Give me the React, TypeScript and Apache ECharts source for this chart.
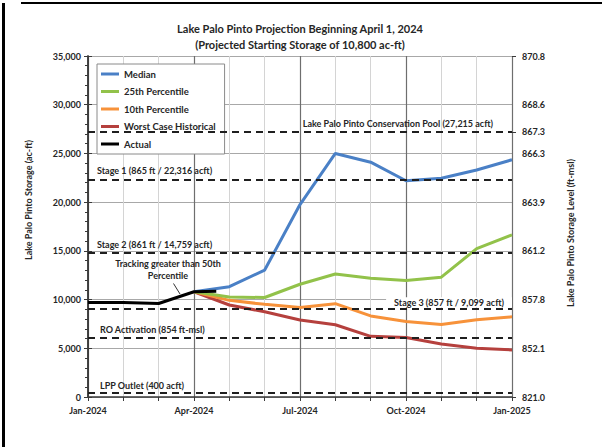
import React, { useEffect, useRef } from "react";
import * as echarts from "echarts";

// ---------- data ----------
const monthLabels = [
  "Jan-2024", "Feb-2024", "Mar-2024", "Apr-2024", "May-2024", "Jun-2024", "Jul-2024",
  "Aug-2024", "Sep-2024", "Oct-2024", "Nov-2024", "Dec-2024", "Jan-2025",
];
const rightTickLabels = ["821.0", "852.1", "857.8", "861.2", "863.9", "866.3", "868.6", "870.8"];
const conservationLevelLabel = "867.3";
const conservationStorage = 27215;

const actualMonths = [0, 1, 2, 3, 3.63];
const actualValues = [9700, 9700, 9600, 10800, 10850];

const projMonths = [3, 4, 5, 6, 7, 8, 9, 10, 11, 12];
const medianValues = [10800, 11320, 13030, 19750, 25000, 24100, 22200, 22450, 23300, 24350];
const p25Values = [10800, 10270, 10210, 11570, 12620, 12200, 11950, 12300, 15230, 16640];
const p10Values = [10800, 9920, 9510, 9180, 9580, 8320, 7760, 7450, 7930, 8230];
const worstValues = [10800, 9440, 8750, 7900, 7420, 6230, 6110, 5430, 5000, 4830];

const thresholdNames = [
  "Lake Palo Pinto Conservation Pool (27,215 acft)",
  "Stage 1 (865 ft / 22,316 acft)",
  "Stage 2 (861 ft / 14,759 acft)",
  "Stage 3 (857 ft / 9,099 acft)",
  "RO Activation (854 ft-msl)",
  "LPP Outlet (400 acft)",
];
const thresholdValues = [27215, 22316, 14759, 9099, 6130, 400];

const seriesNames = ["Median", "25th Percentile", "10th Percentile", "Worst Case Historical", "Actual"];
const titleLines = ["Lake Palo Pinto Projection Beginning April 1, 2024", "(Projected Starting Storage of 10,800 ac-ft)"];
const annotationText = "Tracking greater than 50th\nPercentile";

// ---------- styles ----------
const FONT = "Lato, 'Open Sans', sans-serif";
const TXT = "#262626";
const colors = ["#4a80c6", "#92c24a", "#f7923a", "#b5403d", "#000000"];

const zip = (xs: number[], ys: number[]) => xs.map((x, i) => [x, ys[i]]);

export default function App() {
  const ref = useRef<HTMLDivElement>(null);

  useEffect(() => {
    document.body.style.margin = "0";
    if (!ref.current) return;
    const chart = echarts.init(ref.current, undefined, { renderer: "svg" });

    const gridL = 88, gridR = 90, gridT = 56, gridB = 50;

    const thresholdStyle = [
      { position: "insideEndTop", distance: [19, 4] },
      { position: "insideStartTop", distance: [9, 5] },
      { position: "insideStartTop", distance: [9, 4] },
      { position: "insideEndTop", distance: [0, 1], bg: true },
      { position: "insideStartTop", distance: [12, 3] },
      { position: "insideStartTop", distance: [12, 3] },
    ];

    const lineSeries = [medianValues, p25Values, p10Values, worstValues].map((vals, i) => ({
      name: seriesNames[i],
      type: "line",
      data: zip(projMonths, vals),
      showSymbol: false,
      color: colors[i],
      lineStyle: { width: 3, color: colors[i] },
      z: 3 + (3 - i) * 0.1,
    }));

    const option: any = {
      animation: false,
      backgroundColor: "#ffffff",
      grid: { left: gridL, right: gridR, top: gridT, bottom: gridB, containLabel: false },
      legend: {
        data: seriesNames,
        orient: "vertical",
        left: 97,
        top: 64,
        icon: "rect",
        itemWidth: 18,
        itemHeight: 3,
        itemGap: 5.5,
        padding: [4, 9, 4, 4],
        backgroundColor: "#ffffff",
        borderColor: "#8a8a8a",
        borderWidth: 1,
        textStyle: { fontFamily: FONT, fontSize: 9.5, fontWeight: "bold", color: TXT, lineHeight: 12 },
      },
      xAxis: [
        {
          type: "value",
          min: 0,
          max: 12,
          interval: 1,
          axisLine: { show: true, lineStyle: { color: "#3a3a3a", width: 1.5 } },
          axisTick: { show: true, length: 4, lineStyle: { color: "#3a3a3a" } },
          axisLabel: {
            margin: 9,
            fontFamily: FONT,
            fontSize: 9,
            fontWeight: "bold",
            color: TXT,
            formatter: (v: number) => (v % 3 === 0 ? monthLabels[v] : ""),
          },
          splitLine: { show: true, lineStyle: { color: "#d4d4d4", width: 1 } },
        },
        {
          type: "value",
          min: 0,
          max: 12,
          interval: 3,
          position: "top",
          axisLine: { show: false },
          axisTick: { show: false },
          axisLabel: { show: false },
          splitLine: { show: true, lineStyle: { color: "#6e6e6e", width: 1.2 } },
        },
      ],
      yAxis: [
        {
          type: "value",
          min: 0,
          max: 35000,
          interval: 5000,
          axisLine: { show: true, lineStyle: { color: "#3a3a3a", width: 1.5 } },
          axisTick: { show: true, length: 4, lineStyle: { color: "#3a3a3a" } },
          minorTick: { show: true, splitNumber: 5, length: 3, lineStyle: { color: "#3a3a3a" } },
          axisLabel: {
            margin: 7,
            fontFamily: FONT,
            fontSize: 9,
            fontWeight: "bold",
            color: TXT,
            formatter: (v: number) => v.toLocaleString("en-US"),
          },
          splitLine: { show: true, lineStyle: { color: "#a8a8a8", width: 1 } },
        },
        {
          type: "value",
          min: 0,
          max: 35000,
          interval: 5000,
          position: "right",
          axisLine: { show: true, lineStyle: { color: "#3a3a3a", width: 1.5 } },
          axisTick: { show: true, length: 4, lineStyle: { color: "#3a3a3a" } },
          axisLabel: {
            margin: 10,
            fontFamily: FONT,
            fontSize: 9,
            fontWeight: "bold",
            color: TXT,
            formatter: (v: number) => rightTickLabels[Math.round(v / 5000)] ?? "",
          },
          splitLine: { show: false },
        },
        {
          type: "value",
          min: 0,
          max: 35000,
          interval: conservationStorage,
          position: "right",
          axisLine: { show: false },
          axisTick: { show: true, length: 4, lineStyle: { color: "#3a3a3a" } },
          axisLabel: {
            margin: 10,
            fontFamily: FONT,
            fontSize: 9,
            fontWeight: "bold",
            color: TXT,
            formatter: (v: number) => (Math.abs(v - conservationStorage) < 1 ? conservationLevelLabel : ""),
          },
          splitLine: { show: false },
        },
      ],
      series: [
        {
          name: "thresholds",
          type: "line",
          data: [],
          z: 2,
          markLine: {
            silent: true,
            symbol: ["none", "none"],
            lineStyle: { color: "#1f1f1f", type: [7, 5], width: 2 },
            data: thresholdValues.map((v, i) => {
              const s: any = thresholdStyle[i];
              return {
                yAxis: v,
                label: {
                  show: true,
                  formatter: thresholdNames[i],
                  position: s.position,
                  distance: s.distance,
                  fontFamily: FONT,
                  fontSize: 9,
                  fontWeight: "bold",
                  color: TXT,
                  ...(s.bg ? { backgroundColor: "#ffffff", padding: [1, 8, 0, 8] } : {}),
                },
              };
            }),
          },
        },
        ...lineSeries,
        {
          name: "Actual",
          type: "line",
          data: zip(actualMonths, actualValues),
          showSymbol: false,
          color: colors[4],
          lineStyle: { width: 3, color: colors[4] },
          z: 5,
        },
      ],
      graphic: [
        { type: "rect", shape: { x: 2, y: 3, width: 3, height: 444 }, style: { fill: "#000" } },
        { type: "rect", shape: { x: 21, y: 2, width: 581, height: 2 }, style: { fill: "#000" } },
        {
          type: "text",
          x: 300,
          y: 28,
          style: { text: titleLines[0], fontFamily: FONT, fontSize: 11, fontWeight: "bold", fill: TXT, align: "center", verticalAlign: "middle" },
        },
        {
          type: "text",
          x: 300,
          y: 44,
          style: { text: titleLines[1], fontFamily: FONT, fontSize: 11, fontWeight: "bold", fill: TXT, align: "center", verticalAlign: "middle" },
        },
        {
          type: "text",
          x: 28,
          y: 200,
          rotation: Math.PI / 2,
          style: { text: "Lake Palo Pinto Storage (ac-ft)", fontFamily: FONT, fontSize: 9, fontWeight: "bold", fill: TXT, align: "center", verticalAlign: "middle" },
        },
        {
          type: "text",
          x: 570,
          y: 233,
          rotation: Math.PI / 2,
          style: { text: "Lake Palo Pinto Storage Level (ft-msl)", fontFamily: FONT, fontSize: 9, fontWeight: "bold", fill: TXT, align: "center", verticalAlign: "middle" },
        },
        {
          type: "text",
          x: 168,
          y: 269.5,
          z: 10,
          style: { text: annotationText, fontFamily: FONT, fontSize: 9, fontWeight: "bold", fill: TXT, align: "center", verticalAlign: "middle", lineHeight: 12 },
        },
        {
          type: "line",
          z: 10,
          shape: { x1: 173.5, y1: 283.5, x2: 180, y2: 294 },
          style: { stroke: "#333", lineWidth: 1 },
        },
      ],
    };

    chart.setOption(option);
    return () => chart.dispose();
  }, []);

  return <div ref={ref} style={{ width: 602, height: 447 }} />;
}
